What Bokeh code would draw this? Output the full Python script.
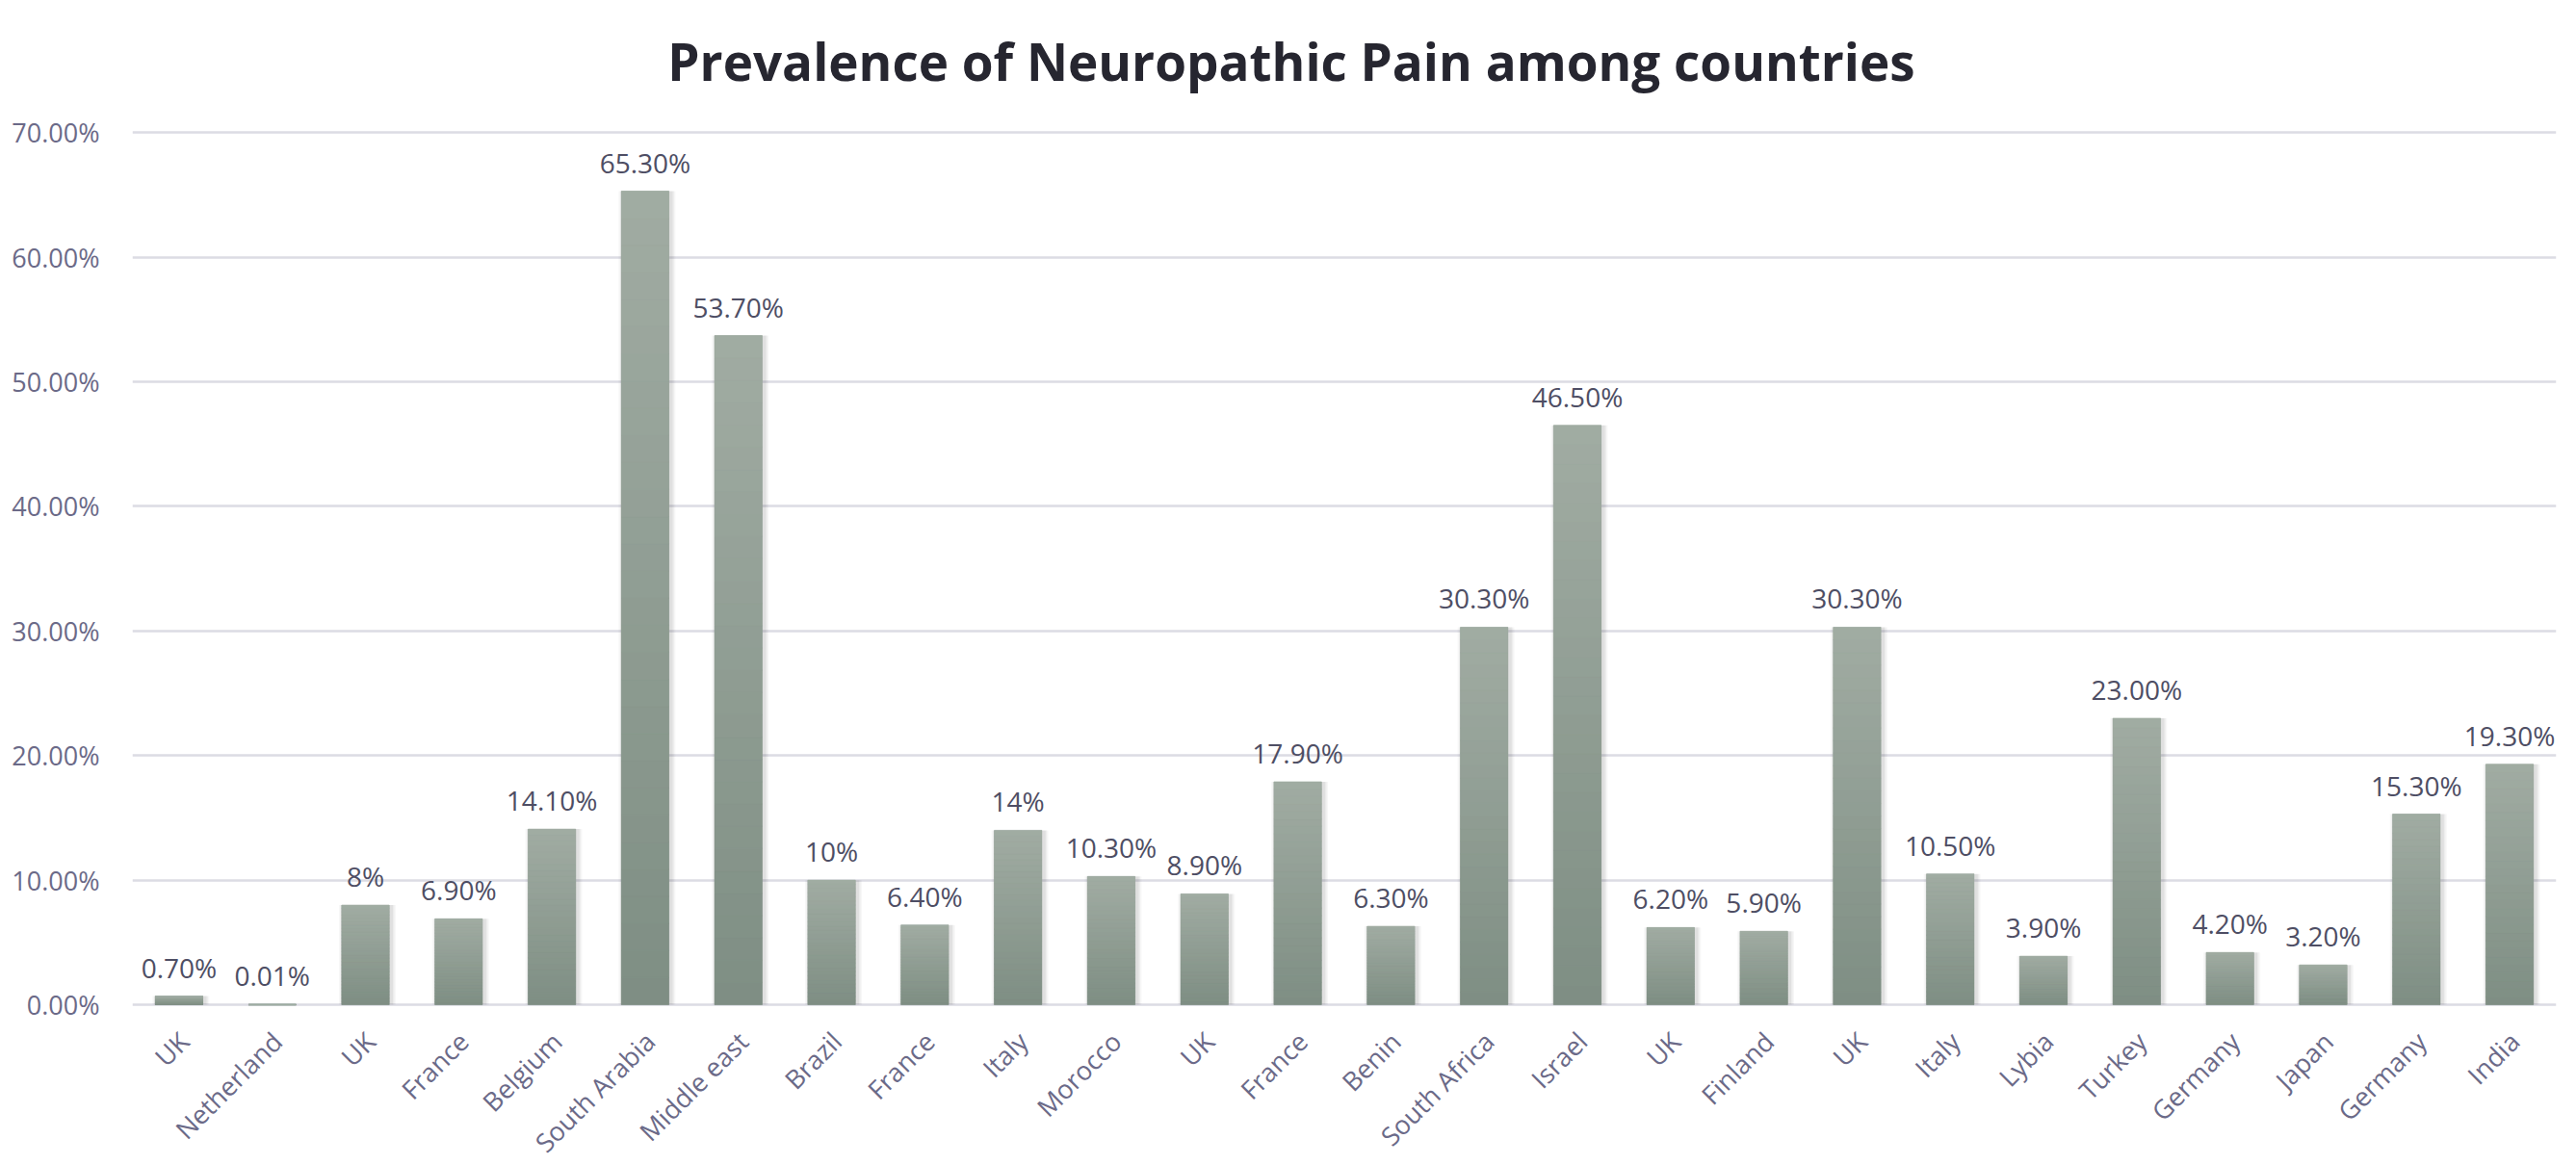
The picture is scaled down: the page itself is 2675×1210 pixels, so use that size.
from math import pi

from bokeh.plotting import figure
from bokeh.models import Range1d, FixedTicker, NumeralTickFormatter, ColumnDataSource
from bokeh.core.properties import value
from bokeh.embed import file_html
from bokeh.resources import INLINE

TITLE = "Prevalence of Neuropathic Pain among countries"

# Study populations (x axis, in drawing order)
countries = [
    "UK", "Netherland", "UK", "France", "Belgium", "South Arabia", "Middle east",
    "Brazil", "France", "Italy", "Morocco", "UK", "France", "Benin",
    "South Africa", "Israel", "UK", "Finland", "UK", "Italy", "Lybia",
    "Turkey", "Germany", "Japan", "Germany", "India",
]

# Reported prevalence of neuropathic pain, in percent
prevalence_pct = [
    0.70, 0.01, 8.0, 6.90, 14.10, 65.30, 53.70,
    10.0, 6.40, 14.0, 10.30, 8.90, 17.90, 6.30,
    30.30, 46.50, 6.20, 5.90, 30.30, 10.50, 3.90,
    23.00, 4.20, 3.20, 15.30, 19.30,
]

# Value labels as printed above each bar
value_labels = [
    "0.70%", "0.01%", "8%", "6.90%", "14.10%", "65.30%", "53.70%",
    "10%", "6.40%", "14%", "10.30%", "8.90%", "17.90%", "6.30%",
    "30.30%", "46.50%", "6.20%", "5.90%", "30.30%", "10.50%", "3.90%",
    "23.00%", "4.20%", "3.20%", "15.30%", "19.30%",
]

# Y axis ticks, in percent
y_ticks_pct = [0, 10, 20, 30, 40, 50, 60, 70]

FONT = "Open Sans"
LABEL_COLOR = "#6b6a88"
VALUE_COLOR = "#4e4e64"
GRID_COLOR = "#dcdce4"
BAR_TOP = (0xa1, 0xac, 0xa3)
BAR_BOTTOM = (0x7e, 0x8e, 0x83)
BAR_WIDTH = 0.51

# The frame spans the full height of the canvas so that the title and the
# slanted country names can be drawn as text glyphs above / below the bars.
Y_MIN = -0.129
Y_MAX = 0.806
Y_TOP_TICK = y_ticks_pct[-1] / 100.0

xs = list(range(len(countries)))
fractions = [v / 100.0 for v in prevalence_pct]

p = figure(
    width=2675, height=1210,
    x_range=Range1d(-0.5, len(countries) - 0.5),
    y_range=Range1d(Y_MIN, Y_MAX),
    output_backend="svg", toolbar_location=None,
    min_border_left=137, min_border_right=21,
    min_border_top=0, min_border_bottom=0,
)
p.background_fill_color = "white"
p.border_fill_color = "white"
p.outline_line_color = None

# Soft shadow behind the bars
for grow, alpha in [(0.10, 0.03), (0.07, 0.04), (0.04, 0.05)]:
    p.vbar(x=[x + 0.02 for x in xs], top=fractions, bottom=0, width=BAR_WIDTH + grow,
           fill_color="black", fill_alpha=alpha, line_color=None)

# Base bars
src = ColumnDataSource(dict(x=xs, top=fractions, label=value_labels,
                            zero=[0] * len(xs), country=countries))
p.vbar(x="x", top="top", bottom=0, width=BAR_WIDTH, source=src,
       fill_color="#8f9c92", line_color=None)

# Vertical gradient on each bar, light at the top, darker at the base
N_BANDS = 30
gx, gb, gt, gc = [], [], [], []
for x, v in zip(xs, fractions):
    for k in range(N_BANDS):
        t = (k + 0.5) / N_BANDS
        rgb = tuple(int(round(b + (a - b) * t)) for a, b in zip(BAR_TOP, BAR_BOTTOM))
        gx.append(x)
        gb.append(v * k / N_BANDS)
        gt.append(v * (k + 1) / N_BANDS)
        gc.append("#%02x%02x%02x" % rgb)
p.vbar(x=gx, bottom=gb, top=gt, width=BAR_WIDTH, fill_color=gc, line_color=gc, line_width=0.6)

# Value labels above bars
p.text(x="x", y="top", text="label", source=src,
       text_font=value(FONT), text_font_size="28px", text_color=VALUE_COLOR,
       text_align="center", text_baseline="alphabetic", y_offset=-30)

# Country names under the zero line, slanted at 45 degrees
p.text(x="x", y="zero", text="country", source=src, angle=pi / 4,
       text_font=value(FONT), text_font_size="27px", text_color=LABEL_COLOR,
       text_align="right", text_baseline="middle", x_offset=5, y_offset=33)

# Chart title, centred on the canvas above the top gridline
p.text(x=[(len(countries) - 1) / 2], y=[Y_TOP_TICK], text=[TITLE],
       text_font=value(FONT), text_font_style="bold", text_font_size="53px",
       text_color="#262630", text_align="center", text_baseline="alphabetic",
       x_offset=-55, y_offset=-74)

# Axes
p.xaxis.visible = False
p.yaxis.ticker = FixedTicker(ticks=[t / 100.0 for t in y_ticks_pct])
p.yaxis.formatter = NumeralTickFormatter(format="0.00%")
p.yaxis.major_label_standoff = 28
p.yaxis.axis_line_color = None
p.yaxis.major_tick_line_color = None
p.yaxis.minor_tick_line_color = None
p.yaxis.major_label_text_font = FONT
p.yaxis.major_label_text_font_size = "27px"
p.yaxis.major_label_text_color = LABEL_COLOR

p.xgrid.grid_line_color = None
p.ygrid.grid_line_color = GRID_COLOR
p.ygrid.grid_line_width = 2.5

open("out.html", "w").write(file_html(p, INLINE))
